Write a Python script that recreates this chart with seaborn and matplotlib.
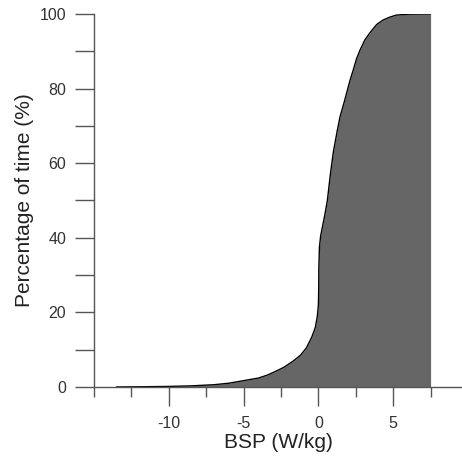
import matplotlib
matplotlib.use("Agg")
import matplotlib.pyplot as plt
import seaborn as sns
import pandas as pd
from matplotlib.ticker import MultipleLocator

# BSP values (W/kg) and cumulative percentage of time (%)
bsp = [-13.5, -12, -10, -8.5, -7, -6, -5, -4, -3.4, -2.8, -2.3, -1.7, -1.2, -0.8,
       -0.45, -0.2, -0.07, 0.0, 0.02, 0.03, 0.07, 0.15, 0.25, 0.45, 0.6, 0.8, 1.0,
       1.25, 1.45, 1.7, 1.9, 2.1, 2.33, 2.55, 2.78, 3.1, 3.45, 3.9, 4.33, 4.8, 5.2,
       6.0, 7.5]
pct_time = [0, 0.05, 0.15, 0.3, 0.6, 1.0, 1.7, 2.4, 3.2, 4.3, 5.3, 6.9, 8.5, 10.5,
            13.3, 16, 19, 22, 26, 32, 37.5, 40.5, 42.5, 46.6, 50, 57, 63, 68.5, 72.5,
            76, 79, 82, 85, 88, 90.3, 93, 95, 97.2, 98.4, 99.2, 99.7, 99.95, 100]

df = pd.DataFrame({"bsp": bsp, "pct": pct_time})

sns.set_style("ticks")
plt.rcParams["font.family"] = ["Liberation Sans", "DejaVu Sans"]
plt.rcParams["axes.unicode_minus"] = False

fig = plt.figure(figsize=(4.62, 4.59), dpi=100)
ax = fig.add_axes([0.2035, 0.1569, 0.7965, 0.8126])

ax.fill_between(df["bsp"], 0, df["pct"], color="#666666", linewidth=0)
sns.lineplot(data=df, x="bsp", y="pct", ax=ax, color="black", linewidth=1.0)

ax.set_xlim(-15, 9.6)
ax.set_ylim(0, 100)
ax.xaxis.set_major_locator(MultipleLocator(5))
ax.xaxis.set_minor_locator(MultipleLocator(2.5))
ax.yaxis.set_major_locator(MultipleLocator(20))
ax.yaxis.set_minor_locator(MultipleLocator(10))
ax.set_xticks([-10, -5, 0, 5])

line_col = "#555555"
for s in ["top", "right"]:
    ax.spines[s].set_visible(False)
for s in ["left", "bottom"]:
    ax.spines[s].set_color(line_col)
    ax.spines[s].set_linewidth(1.0)

ax.tick_params(axis="both", which="both", direction="out", color=line_col,
               width=1.0, labelcolor="#333333", labelsize=11.5)
ax.tick_params(axis="x", which="major", length=14, pad=7)
ax.tick_params(axis="x", which="minor", length=7)
ax.tick_params(axis="y", which="both", length=14, pad=6)

ax.set_xlabel("BSP (W/kg)", fontsize=15, color="#222222", labelpad=1)
ax.set_ylabel("Percentage of time (%)", fontsize=15, color="#222222", labelpad=4)

fig.savefig("out.png", dpi=100)
